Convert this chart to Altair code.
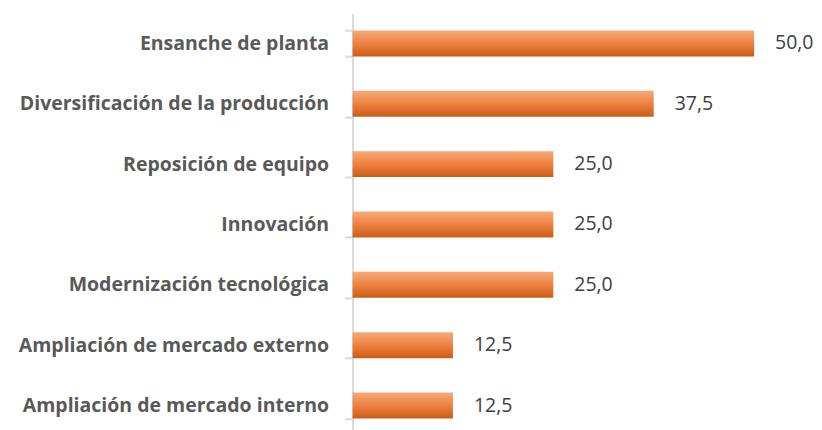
import altair as alt
import pandas as pd

categories = [
    "Ensanche de planta",
    "Diversificación de la producción",
    "Reposición de equipo",
    "Innovación",
    "Modernización tecnológica",
    "Ampliación de mercado externo",
    "Ampliación de mercado interno",
]
values = [50.0, 37.5, 25.0, 25.0, 25.0, 12.5, 12.5]
labels = [f"{v:.1f}".replace(".", ",") for v in values]

df = pd.DataFrame({"cat": categories, "val": values, "lab": labels})

grad = alt.Gradient(
    gradient="linear",
    x1=0, x2=0, y1=0, y2=1,
    stops=[
        alt.GradientStop(offset=0, color="#F5AA78"),
        alt.GradientStop(offset=0.5, color="#EE8140"),
        alt.GradientStop(offset=1, color="#C95C16"),
    ],
)

y = alt.Y(
    "cat:N",
    sort=categories,
    title=None,
    scale=alt.Scale(paddingInner=0.57, paddingOuter=0.285),
    axis=alt.Axis(
        tickBand="extent",
        tickSize=8,
        tickColor="#D9D9D9",
        tickWidth=2,
        domainColor="#D9D9D9",
        domainWidth=2,
        labelPadding=16,
        labelFont="Open Sans",
        labelFontWeight="bold",
        labelFontSize=19.5,
        labelColor="#595959",
        labelLimit=400,
    ),
)
x = alt.X("val:Q", title=None, scale=alt.Scale(domain=[0, 50]), axis=None)

bars = alt.Chart(df).mark_bar(color=grad).encode(x=x, y=y)
text = alt.Chart(df).mark_text(
    align="left", dx=21, font="Open Sans", fontSize=19.5, color="#404040"
).encode(x=x, y=y, text="lab:N")

chart = (
    (bars + text)
    .properties(
        width=402,
        height=423,
        autosize=alt.AutoSizeParams(type="none"),
        padding={"left": 345, "top": 5, "right": 60, "bottom": 0},
    )
    .configure_view(stroke=None)
    .configure_axis(grid=False)
)

chart.save("out.html", embed_options={"renderer": "svg", "actions": False})
